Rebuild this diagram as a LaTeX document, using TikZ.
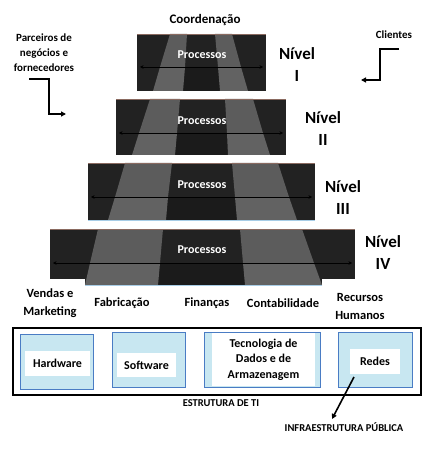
\documentclass[tikz,border=0pt]{standalone}
\usepackage{fontspec}
\setmainfont{Carlito}
\usetikzlibrary{arrows.meta}
\definecolor{dk}{HTML}{222222}
\definecolor{dkc}{HTML}{1B1B1B}
\definecolor{lt}{HTML}{5C5C5C}
\definecolor{ltb}{HTML}{626262}
\definecolor{lbf}{HTML}{C8E7F1}
\definecolor{lbd}{HTML}{4A7CC4}
\definecolor{topedge}{HTML}{8A6A60}
\definecolor{botedge}{HTML}{A8CDE6}
\begin{document}
\begin{tikzpicture}[x=1pt,y=-1pt,
  lbl/.style={font=\fontsize{12.5}{18}\selectfont\bfseries, align=center, inner sep=0pt},
  sm/.style={font=\fontsize{11}{15}\selectfont\bfseries, align=center, inner sep=0pt},
  niv/.style={font=\fontsize{17}{20}\selectfont\bfseries, inner sep=0pt},
  proc/.style={font=\fontsize{12}{14}\selectfont\bfseries, text=white, inner sep=0pt},
  midl/.style={draw=black, line width=0.7pt, {Stealth[length=3.5pt,width=3.5pt]}-{Stealth[length=3.5pt,width=3.5pt]}},
  elbow/.style={draw=black, line width=1.6pt, -{Triangle[length=5pt,width=5pt]}},
  itbox/.style={draw=lbd, fill=lbf, line width=0.9pt, inner sep=0pt},
  wbox/.style={fill=white, inner sep=0pt, font=\fontsize{12}{15.5}\selectfont\bfseries, align=center},
  edgeT/.style={draw=topedge, line width=0.4pt},
  edgeB/.style={draw=botedge, line width=0.6pt}
]
\useasboundingbox (0,0) rectangle (446,454);
\fill[white] (0,0) rectangle (446,454);

% ---------- Level I ----------
\fill[dk] (137,34) rectangle (266,91);
\fill[dkc] (185,67) -- (218,67) -- (220,91) -- (183,91) -- cycle;
\fill[lt] (170,34) -- (187,34) -- (185,67) -- (160,67) -- cycle;
\fill[ltb] (160,67) -- (185,67) -- (183,91) -- (153,91) -- cycle;
\fill[lt] (215,34) -- (232,34) -- (241,67) -- (218,67) -- cycle;
\fill[ltb] (218,67) -- (241,67) -- (248,91) -- (220,91) -- cycle;
\draw[edgeT] (137,34.2) -- (266,34.2);
\coordinate (m1a) at (140,67); \coordinate (m1b) at (263,67);
\draw[midl] (m1a) -- (m1b);
\node[proc] (p1) at (202,55) {Processos};

% ---------- Level II ----------
\fill[dk] (116,99) rectangle (286,155);
\fill[dkc] (177,133) -- (227,133) -- (228,155) -- (175,155) -- cycle;
\fill[lt] (150,99) -- (180,99) -- (177,133) -- (139,133) -- cycle;
\fill[ltb] (139,133) -- (177,133) -- (175,155) -- (132,155) -- cycle;
\fill[lt] (225,99) -- (253,99) -- (263,133) -- (227,133) -- cycle;
\fill[ltb] (227,133) -- (263,133) -- (270,155) -- (228,155) -- cycle;
\draw[edgeT] (116,99.2) -- (286,99.2);
\coordinate (m2a) at (119,133); \coordinate (m2b) at (283,133);
\draw[midl] (m2a) -- (m2b);
\node[proc] (p2) at (202,121) {Processos};

% ---------- Level III ----------
\fill[dk] (88,163) rectangle (315,220);
\fill[dkc] (168,197) -- (235,197) -- (237,220) -- (166,220) -- cycle;
\fill[lt] (125,163) -- (172,163) -- (168,197) -- (115,197) -- cycle;
\fill[ltb] (115,197) -- (168,197) -- (166,220) -- (108,220) -- cycle;
\fill[lt] (232,163) -- (278,163) -- (289,197) -- (235,197) -- cycle;
\fill[ltb] (235,197) -- (289,197) -- (297,220) -- (237,220) -- cycle;
\draw[edgeT] (88,163.2) -- (315,163.2);
\draw[edgeB] (88,220) -- (315,220);
\coordinate (m3a) at (91,197); \coordinate (m3b) at (312,197);
\draw[midl] (m3a) -- (m3b);
\node[proc] (p3) at (202,185) {Processos};

% ---------- Level IV ----------
\fill[dk] (50,229) rectangle (355,279);
\fill[dk] (85,263) rectangle (322,285);
\fill[dkc] (160,263) -- (243,263) -- (245,285) -- (158,285) -- cycle;
\fill[lt] (98,229) -- (163,229) -- (160,263) -- (90,263) -- cycle;
\fill[ltb] (90,263) -- (160,263) -- (158,285) -- (85,285) -- cycle;
\fill[lt] (240,229) -- (302,229) -- (314,263) -- (243,263) -- cycle;
\fill[ltb] (243,263) -- (314,263) -- (322,285) -- (245,285) -- cycle;
\draw[edgeT] (50,229.2) -- (355,229.2);
\draw[edgeB] (85,285) -- (322,285);
\coordinate (m4a) at (53,263); \coordinate (m4b) at (352,263);
\draw[midl] (m4a) -- (m4b);
\node[proc] (p4) at (202,250) {Processos};

% ---------- Top labels ----------
\node[font=\fontsize{13}{15}\selectfont\bfseries, inner sep=0pt] (coord) at (205,20) {Coordenação};
\node[sm] (parc) at (44,53) {Parceiros de\\negócios e\\fornecedores};
\node[sm] (cli) at (394,35) {Clientes};

\coordinate (pa1) at (29,79); \coordinate (pa2) at (49,79);
\coordinate (pa3) at (49,114); \coordinate (pa4) at (66,114);
\draw[elbow] (pa1) -- (pa2) -- (pa3) -- (pa4);
\coordinate (ca1) at (399,49); \coordinate (ca2) at (380,49);
\coordinate (ca3) at (380,80); \coordinate (ca4) at (361,80);
\draw[elbow] (ca1) -- (ca2) -- (ca3) -- (ca4);

% ---------- Nivel labels ----------
\node[niv] (n1a) at (297,54) {Nível};
\node[niv] (n1b) at (297,76) {I};
\node[niv] (n2a) at (323,118) {Nível};
\node[niv] (n2b) at (323,140) {II};
\node[niv] (n3a) at (343,187) {Nível};
\node[niv] (n3b) at (343,209) {III};
\node[niv] (n4a) at (383,242) {Nível};
\node[niv] (n4b) at (383,264) {IV};

% ---------- Functional labels ----------
\node[lbl] (vend) at (50,303) {Vendas e\\Marketing};
\node[lbl] (fab) at (122,303) {Fabricação};
\node[lbl] (fin) at (207,303) {Finanças};
\node[lbl] (cont) at (283,303) {Contabilidade};
\node[lbl] (rh) at (360,306) {Recursos\\Humanos};

% ---------- IT structure ----------
\node[draw=black, line width=2pt, minimum width=408pt, minimum height=67pt, inner sep=0pt] (ti) at (217,361.5) {};
\node[itbox, minimum width=73pt, minimum height=55pt] (hw) at (56.5,361.5) {};
\node[wbox, minimum width=65pt, minimum height=25pt] (hwt) at (57.5,363.5) {Hardware};
\node[itbox, minimum width=73pt, minimum height=55pt] (sw) at (148.5,359.5) {};
\node[wbox, minimum width=59pt, minimum height=24pt] (swt) at (146.5,365) {Software};
\node[itbox, minimum width=116pt, minimum height=55pt] (tec) at (262,359.5) {};
\node[wbox, minimum width=103pt, minimum height=53pt] (tect) at (263.5,359.5) {Tecnologia de\\Dados e de\\Armazenagem};
\node[itbox, minimum width=74pt, minimum height=55pt] (red) at (375,359.5) {};
\node[wbox, minimum width=50pt, minimum height=25pt] (redt) at (375,361.5) {Redes};

\node[font=\fontsize{10.5}{12}\selectfont\bfseries, inner sep=0pt] (estr) at (221,403) {ESTRUTURA DE TI};
\node[font=\fontsize{10.5}{12}\selectfont\bfseries, inner sep=0pt] (infra) at (344,427) {INFRAESTRUTURA PÚBLICA};
\coordinate (ra) at (354,377); \coordinate (rb) at (332,419);
\draw[elbow] (ra) -- (rb);
\end{tikzpicture}
\end{document}
